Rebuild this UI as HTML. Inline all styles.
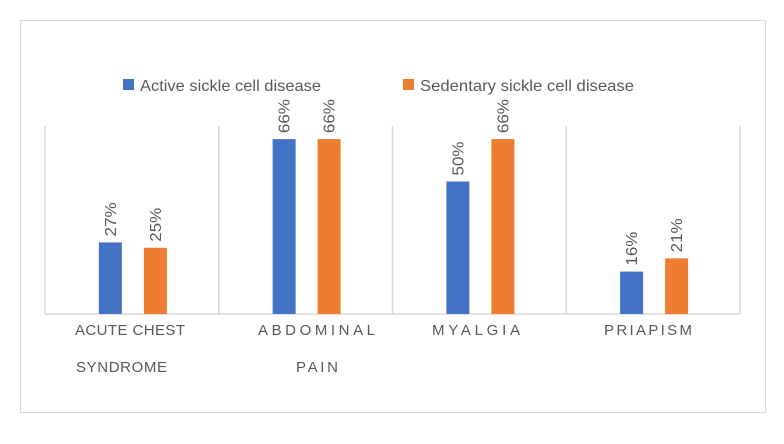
<!DOCTYPE html>
<html><head><meta charset="utf-8"><style>
body{margin:0;background:#fff;font-family:"Liberation Sans",sans-serif;}
svg text{font-family:"Liberation Sans",sans-serif;fill:#595959;}
</style></head><body>
<svg width="784" height="439">
<rect x="20.5" y="20.5" width="745" height="392" fill="#fff" stroke="#d9d9d9"/>
<g>
<rect x="123" y="79" width="11" height="11" fill="#4472c4"/>
<text x="140" y="91" font-size="16" textLength="181" lengthAdjust="spacingAndGlyphs">Active sickle cell disease</text>
<rect x="403" y="79" width="11" height="11" fill="#ed7d31"/>
<text x="420" y="91" font-size="16" textLength="214" lengthAdjust="spacingAndGlyphs">Sedentary sickle cell disease</text>
</g>
<g id="plot"></g>
</svg>
<script>
const categories=[["ACUTE CHEST","SYNDROME"],["ABDOMINAL","PAIN"],["MYALGIA",""],["PRIAPISM",""]];
const activeValues=[27,66,50,16];
const sedentaryValues=[25,66,66,21];
// label layout (styling, not data)
const labelStart=[[75,76],[258,296],[432,0],[604,0]];
const labelLen=[[110,91],[117,42],[88,0],[88,0]];
const ns="http://www.w3.org/2000/svg";
const g=document.getElementById('plot');
const left=45,right=740,base=314,top0=126,pxPer=2.65;
const bw=(right-left)/categories.length;
const y=v=>base-v*pxPer;
function mk(t,a){const e=document.createElementNS(ns,t);for(const k in a)e.setAttribute(k,a[k]);g.appendChild(e);return e;}
for(let i=0;i<=categories.length;i++){
 const l=mk('line',{x1:left+i*bw,x2:left+i*bw,y1:top0,y2:base,stroke:'#d9d9d9','stroke-width':1.5});
 
 
}
const ax=mk('line',{x1:left,x2:right,y1:base,y2:base,stroke:'#d9d9d9','stroke-width':1.5});


categories.forEach((c,i)=>{
 const cx=left+bw*(i+0.5);
 [[activeValues[i],'#4472c4',cx-33,'active'],[sedentaryValues[i],'#ed7d31',cx+12,'sedentary']].forEach(([v,col,x,s])=>{
  const r=mk('rect',{x:x,y:y(v),width:23,height:base-y(v),fill:col});
  
  
  const tx=x+17,ty=y(v)-6;
  const t=mk('text',{x:tx,y:ty,'font-size':16,textLength:34,lengthAdjust:'spacingAndGlyphs',transform:`rotate(-90 ${tx} ${ty})`});
  t.textContent=v+'%';
  
  
 });
 c.forEach((line,j)=>{
  if(!line)return;
  const t=mk('text',{x:labelStart[i][j],y:335+j*37,'font-size':15,textLength:labelLen[i][j],lengthAdjust:'spacing'});
  t.textContent=line;
  
  
 });
});
</script>
</body></html>
